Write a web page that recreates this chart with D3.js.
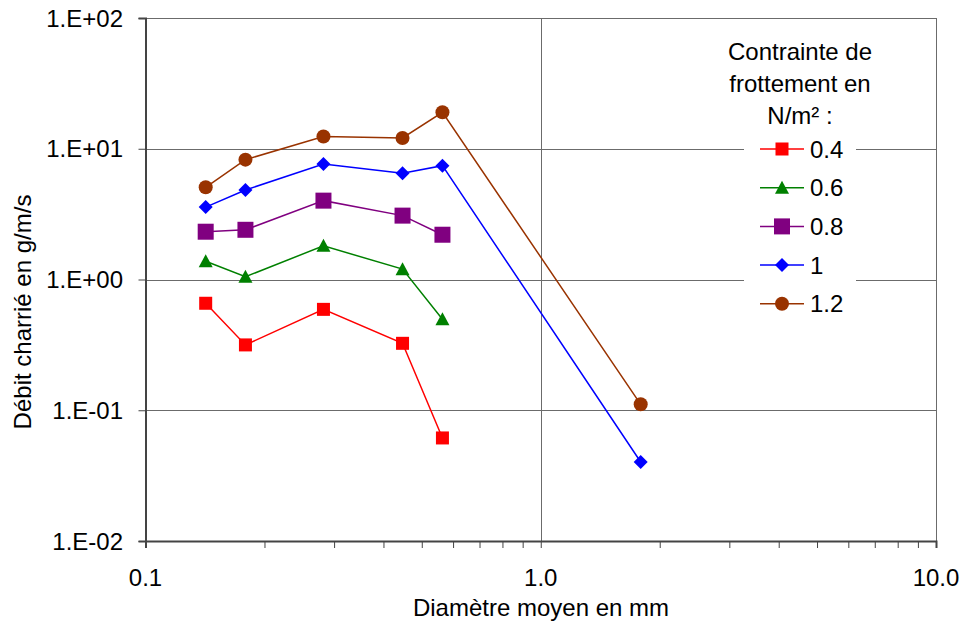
<!DOCTYPE html>
<html><head><meta charset="utf-8">
<script src="https://cdn.jsdelivr.net/npm/d3@7"></script>
<style>body{margin:0;background:#fff}svg{display:block}text{font-family:"Liberation Sans",Arial,sans-serif;fill:#000}</style>
</head><body>
<svg id="c" width="962" height="624"></svg>
<script>
const diameters = [0.142, 0.179, 0.282, 0.447, 0.564];
const diameterFar = 1.79;
const s04 = [0.658, 0.316, 0.591, 0.325, 0.0614];
const s06 = [1.38, 1.05, 1.81, 1.20, 0.496];
const s08 = [2.32, 2.40, 4.01, 3.08, 2.20];
const s10 = [3.58, 4.84, 7.64, 6.49, 7.42, 0.0402];
const s12 = [5.07, 8.25, 12.4, 12.1, 19.0, 0.111];
const seriesNames = ["0.4", "0.6", "0.8", "1", "1.2"];
const seriesColors = ["#FF0000", "#008000", "#800080", "#0000FF", "#993300"];
const seriesSymbols = ["square", "triangle", "bigsquare", "diamond", "circle"];
const xTicks = [0.1, 1, 10];
const xTickLabels = ["0.1", "1.0", "10.0"];
const yTicks = [0.01, 0.1, 1, 10, 100];
const yTickLabels = ["1.E-02", "1.E-01", "1.E+00", "1.E+01", "1.E+02"];
const legendTitle = ["Contrainte de", "frottement en", "N/m² :"];
const xTitle = "Diamètre moyen en mm";
const yTitle = "Débit charrié en g/m/s";

const allSeries = [s04, s06, s08, s10, s12].map((vals, i) => ({
  name: seriesNames[i], color: seriesColors[i], sym: seriesSymbols[i],
  pts: vals.map((v, j) => ({x: j < diameters.length ? diameters[j] : diameterFar, y: v}))
}));

const svg = d3.select("#c");
const L = 145.5, R = 936, T = 18, B = 541;
const x = d3.scaleLog().domain([0.1, 10]).range([L, R]);
const y = d3.scaleLog().domain([0.01, 100]).range([B, T]);
const FS = 24;

// gridlines
const g = svg.append("g");
g.selectAll("line.hy").data(yTicks).join("line")
  .attr("x1", L).attr("x2", R).attr("y1", d => Math.round(y(d)) + 0.5).attr("y2", d => Math.round(y(d)) + 0.5)
  .attr("stroke", "#6b6b6b").attr("stroke-width", 1);
g.selectAll("line.vx").data(xTicks.slice(1)).join("line")
  .attr("y1", T).attr("y2", B).attr("x1", d => Math.round(x(d)) + 0.5).attr("x2", d => Math.round(x(d)) + 0.5)
  .attr("stroke", "#6b6b6b").attr("stroke-width", 1);

// x axis with minor ticks
const minor = [];
for (let d = 0.1; d < 10; d *= 10) for (let k = 1; k <= 10; k++) minor.push(+(d * k).toPrecision(3));
const xAxis = d3.axisBottom(x).tickValues(Array.from(new Set(minor))).tickSize(7).tickFormat("");
const xa = svg.append("g").attr("transform", `translate(0,${B})`).call(xAxis);
xa.select(".domain").attr("stroke", "#444").attr("stroke-width", 2);
xa.selectAll(".tick line").attr("stroke", "#444").attr("stroke-width", 1);
svg.append("g").selectAll("text").data(xTicks).join("text")
  .attr("x", d => x(d)).attr("y", 586).attr("text-anchor", "middle").attr("font-size", FS)
  .text((d, i) => xTickLabels[i]);

// y axis
const yAxis = d3.axisLeft(y).tickValues(yTicks).tickSize(7).tickFormat("");
const ya = svg.append("g").attr("transform", `translate(${L},0)`).call(yAxis);
ya.select(".domain").attr("stroke", "#444").attr("stroke-width", 2);
ya.selectAll(".tick line").attr("stroke", "#444").attr("stroke-width", 1);
svg.append("g").selectAll("text").data(yTicks).join("text")
  .attr("x", 123).attr("y", d => y(d) + 8.5).attr("text-anchor", "end").attr("font-size", FS)
  .text((d, i) => yTickLabels[i]);

// titles
svg.append("text").attr("x", 541).attr("y", 616).attr("text-anchor", "middle").attr("font-size", FS).text(xTitle);
svg.append("text").attr("transform", "translate(31,312) rotate(-90)").attr("text-anchor", "middle").attr("font-size", FS).text(yTitle);

// symbols
function drawSym(sel, sym, color) {
  if (sym === "square") sel.append("rect").attr("x", -6.5).attr("y", -6.5).attr("width", 13).attr("height", 13).attr("fill", color);
  else if (sym === "bigsquare") sel.append("rect").attr("x", -8).attr("y", -8).attr("width", 16).attr("height", 16).attr("fill", color);
  else if (sym === "triangle") sel.append("path").attr("d", "M0,-7L7,6L-7,6Z").attr("fill", color);
  else if (sym === "diamond") sel.append("path").attr("d", "M0,-7L7,0L0,7L-7,0Z").attr("fill", color);
  else if (sym === "circle") sel.append("circle").attr("r", 7).attr("fill", color);
}

const line = d3.line().x(d => x(d.x)).y(d => y(d.y));
allSeries.forEach(s => {
  svg.append("path").attr("d", line(s.pts)).attr("fill", "none").attr("stroke", s.color).attr("stroke-width", 1.5);
  svg.append("g").selectAll("g").data(s.pts).join("g")
    .attr("transform", d => `translate(${x(d.x)},${y(d.y)})`)
    .each(function() { drawSym(d3.select(this), s.sym, s.color); });
});

// legend
const lg = svg.append("g");
lg.append("rect").attr("x", 744).attr("y", 30).attr("width", 112).attr("height", 290).attr("fill", "#fff");
lg.selectAll("text.t").data(legendTitle).join("text")
  .attr("x", 800).attr("y", (d, i) => 60 + i * 32).attr("text-anchor", "middle").attr("font-size", FS).text(d => d);
const items = lg.selectAll("g.it").data(allSeries).join("g")
  .attr("transform", (d, i) => `translate(0,${149 + i * 38.7})`);
items.append("line").attr("x1", 760).attr("x2", 804).attr("y1", 0).attr("y2", 0)
  .attr("stroke", d => d.color).attr("stroke-width", 1.5);
items.each(function(d) { drawSym(d3.select(this).append("g").attr("transform", "translate(782,0)"), d.sym, d.color); });
items.append("text").attr("x", 810).attr("y", 8.5).attr("font-size", FS).text(d => d.name);
</script>
</body></html>
